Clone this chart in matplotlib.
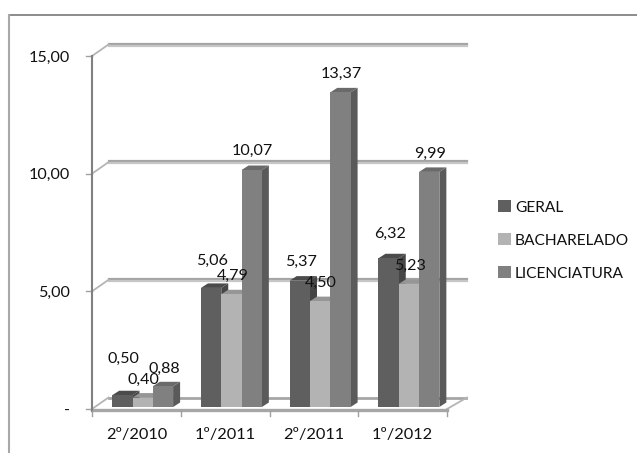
# -*- coding: utf-8 -*-
import numpy as np
import matplotlib
matplotlib.use("Agg")
import matplotlib.pyplot as plt
from matplotlib.patches import Polygon, Patch
from matplotlib.lines import Line2D

plt.rcParams["font.family"] = ["Lato", "DejaVu Sans"]

# Datos
semestres = ["2º/2010", "1º/2011", "2º/2011", "1º/2012"]
geral = [0.50, 5.06, 5.37, 6.32]
bacharelado = [0.40, 4.79, 4.50, 5.23]
licenciatura = [0.88, 10.07, 13.37, 9.99]
series_nomes = ["GERAL", "BACHARELADO", "LICENCIATURA"]
y_ticks = [0, 5, 10, 15]
y_labels = ["-", "5,00", "10,00", "15,00"]

# Colores (frente, lado, arriba)
colores = [("#5f5f5f", "#464646", "#4b4b4b"),
           ("#b3b3b3", "#8c8c8c", "#969696"),
           ("#808080", "#5a5a5a", "#6a6a6a")]

W, H = 637, 453
fig = plt.figure(figsize=(W / 100, H / 100), dpi=100)
ax = fig.add_axes([92 / W, (H - 409) / H, 355 / W, 353 / H])
ax.set_xlim(0, 4)
ax.set_ylim(0, 15)
ax.axis("off")

# px a unidades de datos
px_x = 4 / 355
px_y = 15 / 353

# Marco exterior
fig.add_artist(Line2D([8.5 / W, 1], [1 - 15 / H, 1 - 15 / H], color="#8c8c8c", lw=1.4))
fig.add_artist(Line2D([8.5 / W, 8.5 / W], [0, 1 - 15 / H], color="#a8a8a8", lw=1.5))

# Paredes: lineas de grilla, con su diagonal y el piso
wall_dx = 16.5 * px_x
wall_dy = 11.5 * px_y
for t in y_ticks:
    x0, x1 = wall_dx, 4 + 20 * px_x
    yb = t + wall_dy
    if t == 0:
        ax.plot([x0, x1 - 1 * px_x], [yb, yb], color="#a6a6a6", lw=2.0, clip_on=False, zorder=1)
    else:
        ax.plot([x0, x1], [yb + 1 * px_y, yb + 1 * px_y], color="#a4a4a4", lw=1.6, clip_on=False, zorder=1)
        ax.plot([x0, x1], [yb - 1 * px_y, yb - 1 * px_y], color="#c6c6c6", lw=1.6, clip_on=False, zorder=1)
    ax.plot([0, x0], [t, yb], color="#b5b5b5", lw=1.3, clip_on=False, zorder=1)
    ax.plot([-6 * px_x, 0], [t, t], color="#a0a0a0", lw=1.0, clip_on=False, zorder=2)

# Piso
ax.plot([4, 4 + 20 * px_x], [0, wall_dy], color="#b5b5b5", lw=1.3, clip_on=False, zorder=1)
ax.plot([0, 4], [-1 * px_y, -1 * px_y], color="#a6a6a6", lw=2.4, clip_on=False, zorder=2)
ax.plot([0, 0], [-2 * px_y, 15], color="#808080", lw=1.5, clip_on=False, zorder=2)
for i in range(5):
    ax.plot([i, i], [-2 * px_y, -7 * px_y], color="#a0a0a0", lw=1.0, clip_on=False, zorder=2)

# Barras con efecto 3D
ancho = 20.3 * px_x
inicio = 20.2 * px_x
base = 2 * px_y
prof_x = 7 * px_x
prof_y = 4.5 * px_y
x = np.arange(len(semestres))
valores = [geral, bacharelado, licenciatura]
for s, vals in enumerate(valores):
    frente, lado, arriba = colores[s]
    xs = x + inicio + s * ancho
    ax.bar(xs, vals, width=ancho, bottom=base, align="edge", color=frente, clip_on=False, zorder=4 + s)
    for xi, v in zip(xs, vals):
        top = v + base
        ax.add_patch(Polygon([(xi + ancho, base), (xi + ancho + prof_x, base + prof_y),
                              (xi + ancho + prof_x, top + prof_y), (xi + ancho, top)],
                             closed=True, fc=lado, ec="none", clip_on=False, zorder=3 + s))
        ax.add_patch(Polygon([(xi, top), (xi + prof_x, top + prof_y),
                              (xi + ancho + prof_x, top + prof_y), (xi + ancho, top)],
                             closed=True, fc=arriba, ec="none", clip_on=False, zorder=3 + s))

# Etiquetas de datos, desplazadas hacia arriba en px
desplaz = [[36, 27, 19, 24], [18, 18, 18, 18], [17, 19, 18, 18]]
for s, vals in enumerate(valores):
    for i, v in enumerate(vals):
        cx = i + inicio + (s + 0.5) * ancho + 1 * px_x
        cy = v + base + desplaz[s][i] * px_y
        ax.text(cx, cy, f"{v:.2f}".replace(".", ","), ha="center", va="center",
                fontsize=11.6, color="#111111", clip_on=False, zorder=20)

# Etiquetas de ejes
for t, lab in zip(y_ticks, y_labels):
    ax.text(-22 * px_x, t - 1.5 * px_y, lab, ha="right", va="center", fontsize=11.6, color="#111111", clip_on=False)
for i, lab in enumerate(semestres):
    ax.text(i + 0.5, -26 * px_y, lab, ha="center", va="center", fontsize=11.8, color="#111111", clip_on=False)

# Leyenda
handles = [Patch(fc=c[0], ec="none", label=n) for c, n in zip(colores, series_nomes)]
fig.legend(handles=handles, loc="upper left", bbox_to_anchor=(486 / W, 1 - 188 / H), frameon=False,
           fontsize=11.2, handlelength=0.78, handleheight=0.78, handletextpad=0.27,
           labelspacing=1.2, borderpad=0.3, labelcolor="#111111")

fig.savefig("out.png", dpi=100, facecolor="white")
